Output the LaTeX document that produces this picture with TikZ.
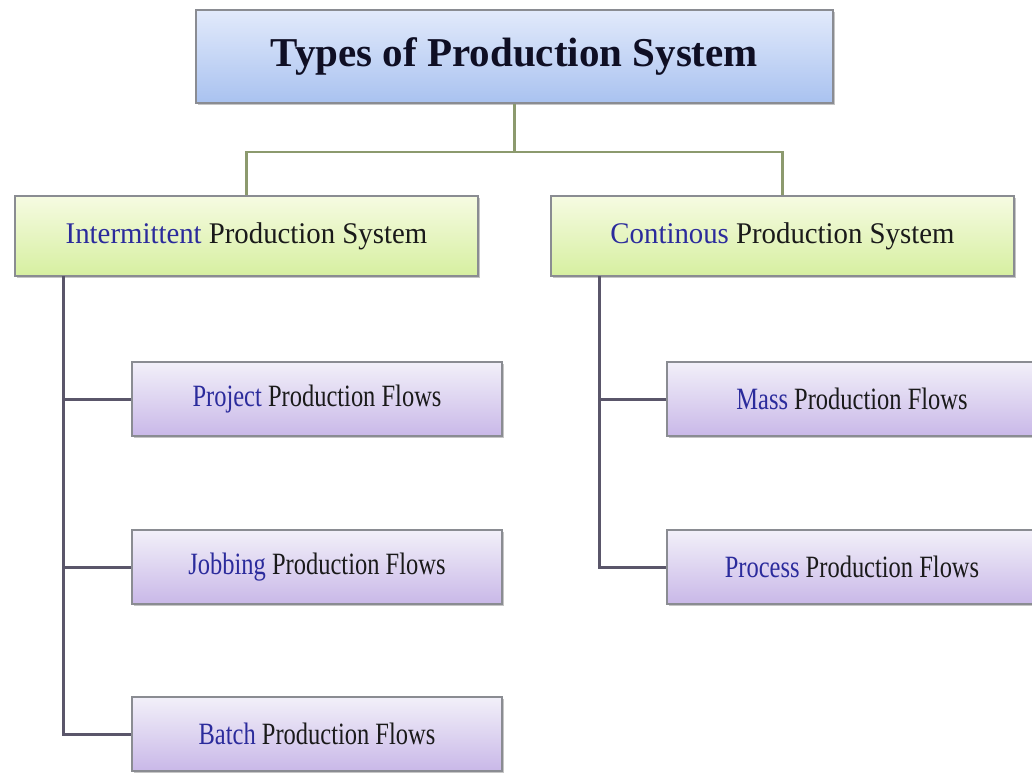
\documentclass[tikz,border=0pt]{standalone}
\usepackage{fontspec}
\usepackage{graphicx}
\setmainfont{Liberation Serif}
\usetikzlibrary{shadows}
\definecolor{bluetxt}{HTML}{2B2B9C}
\definecolor{darktxt}{HTML}{1A1A1A}
\definecolor{titletxt}{HTML}{0F0F24}
\definecolor{topconncol}{HTML}{8C9A6E}
\definecolor{lowconncol}{HTML}{5A566A}
\definecolor{boxedge}{HTML}{8A8C92}
\definecolor{titletop}{HTML}{E2EAFB}
\definecolor{titlebot}{HTML}{A9C2F0}
\definecolor{greentop}{HTML}{F6FBE2}
\definecolor{greenbot}{HTML}{D6EFA0}
\definecolor{purptop}{HTML}{F2F0F9}
\definecolor{purpbot}{HTML}{C9B8E8}
\tikzset{
  basebox/.style={rectangle, draw=boxedge, line width=1.4pt, inner sep=0pt,
    drop shadow={shadow xshift=1.5pt, shadow yshift=-2pt, opacity=0.45, fill=gray}},
  titlebox/.style={basebox, top color=titletop, bottom color=titlebot,
    minimum width=637pt, minimum height=93pt},
  greenbox/.style={basebox, top color=greentop, bottom color=greenbot,
    minimum width=463pt, minimum height=80pt},
  purplebox/.style={basebox, top color=purptop, bottom color=purpbot,
    minimum width=370pt, minimum height=74pt},
  topconn/.style={draw=topconncol, line width=2.8pt},
  lowconn/.style={draw=lowconncol, line width=3pt},
}
\newcommand{\greentxt}[2]{{\fontsize{30}{30}\selectfont\scalebox{0.96}[1]{\textcolor{bluetxt}{#1} \textcolor{darktxt}{#2}}}}
\newcommand{\purpletxt}[2]{{\fontsize{31}{31}\selectfont\scalebox{0.79}[1]{\textcolor{bluetxt}{#1} \textcolor{darktxt}{#2}}}}
\begin{document}
\begin{tikzpicture}[x=1pt, y=-1pt]
\useasboundingbox (0,0) rectangle (1032,772);
\fill[white] (0,0) rectangle (1032,772);

\node[titlebox] (top) at (514.5,56.5) {\fontsize{41}{41}\selectfont\bfseries\textcolor{titletxt}{Types of Production System}};

\node[greenbox] (gl) at (246.5,236) {\greentxt{Intermittent}{Production System}};
\node[greenbox] (gr) at (782.5,236) {\greentxt{Continous}{Production System}};

\node[purplebox] (proj) at (317,399) {\purpletxt{Project}{Production Flows}};
\node[purplebox] (job) at (317,567) {\purpletxt{Jobbing}{Production Flows}};
\node[purplebox] (batch) at (317,734) {\purpletxt{Batch}{Production Flows}};

\node[purplebox] (mass) at (852,399) {\purpletxt{Mass}{Production Flows}};
\node[purplebox] (proc) at (852,567) {\purpletxt{Process}{Production Flows}};

\coordinate (hj) at (514.5,152);
\draw[topconn] (top.south) -- (hj);
\draw[topconn] (hj) -| (gl.north);
\draw[topconn] (hj) -| (gr.north);

\coordinate (lv) at (63,276);
\draw[lowconn] (lv) |- (proj.west);
\draw[lowconn] (lv) |- (job.west);
\draw[lowconn] (lv) |- (batch.west);

\coordinate (rv) at (599,276);
\draw[lowconn] (rv) |- (mass.west);
\draw[lowconn] (rv) |- (proc.west);
\end{tikzpicture}
\end{document}
